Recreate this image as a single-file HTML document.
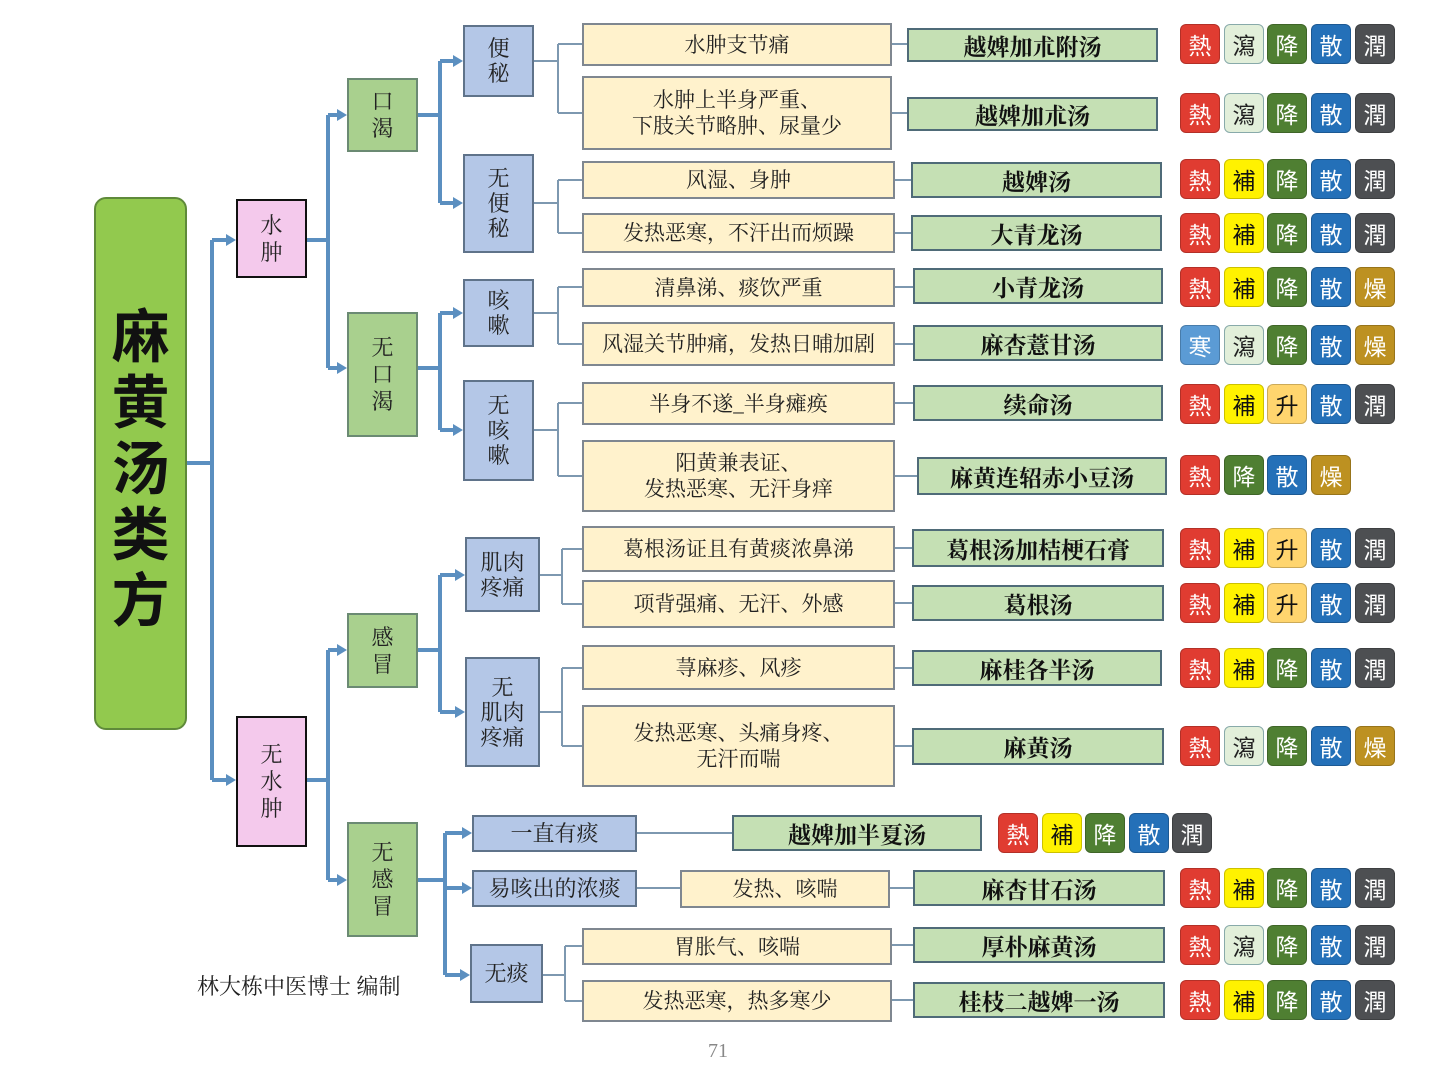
<!DOCTYPE html>
<html><head><meta charset="utf-8">
<style>
body{margin:0;width:1440px;height:1079px;background:#fff;position:relative;overflow:hidden;font-family:"Liberation Serif","Noto Serif CJK SC",serif;}
.b{position:absolute;box-sizing:border-box;display:flex;align-items:center;justify-content:center;text-align:center;color:#222;}
.l1{background:#f4c9ec;border:2px solid #111;font-size:22px;line-height:27px;}
.l2{background:#a9d08e;border:2px solid #6b8a73;font-size:22px;line-height:27px;}
.l3{background:#b4c7e7;border:2px solid #5f738a;font-size:22px;line-height:25px;}
.s{background:#fff2cc;border:2px solid #7f8790;font-size:21px;line-height:26px;}
.f{background:#c5e0b4;border:2px solid #4f6b78;font-size:23px;font-weight:bold;color:#111;}
.k{position:absolute;width:40px;height:40px;border-radius:6px;box-sizing:border-box;display:flex;align-items:center;justify-content:center;font-size:23px;color:#fff;font-family:"Noto Sans CJK SC",sans-serif;border:1px solid rgba(0,0,0,.2);}
.r{background:#e03c31}.y{background:#fff200;color:#111}.g{background:#4f7f32}.bl{background:#2470b8}.d{background:#4d4f52}.x{background:#e2efda;color:#222;border-color:#8aa}.o{background:#ffd56e;color:#111}.z{background:#bd9121}.c{background:#5b9bd5}
</style></head><body>
<svg width="1440" height="1079" style="position:absolute;left:0;top:0">
<g stroke="#5b8fc0" stroke-width="4" fill="none">
<path d="M187 463H212M212 240V780M212 240H228M212 780H228"/>
<path d="M307 240H328M328 115V368M328 115H339M328 368H339"/>
<path d="M307 780H328M328 650V880M328 650H339M328 880H339"/>
<path d="M418 115H440M440 61V203M440 61H455M440 203H455"/>
<path d="M418 368H440M440 313V430M440 313H455M440 430H455"/>
<path d="M418 650H440M440 575V712M440 575H457M440 712H457"/>
<path d="M418 880H445M445 833V975M445 833H464M445 888H464M445 975H462"/>
</g>
<g fill="#5b8fc0">
<polygon points="226,234 236,240 226,246"/><polygon points="226,774 236,780 226,786"/>
<polygon points="337,109 347,115 337,121"/><polygon points="337,362 347,368 337,374"/>
<polygon points="337,644 347,650 337,656"/><polygon points="337,874 347,880 337,886"/>
<polygon points="453,55 463,61 453,67"/><polygon points="453,197 463,203 453,209"/>
<polygon points="453,307 463,313 453,319"/><polygon points="453,424 463,430 453,436"/>
<polygon points="455,569 465,575 455,581"/><polygon points="455,706 465,712 455,718"/>
<polygon points="462,827 472,833 462,839"/><polygon points="462,882 472,888 462,894"/><polygon points="460,969 470,975 460,981"/>
</g>
<g stroke="#7d98b0" stroke-width="2" fill="none">
<path d="M534 61H558M558 44V113M558 44H582M558 113H582"/>
<path d="M534 203H558M558 180V233M558 180H582M558 233H582"/>
<path d="M534 313H558M558 287V344M558 287H582M558 344H582"/>
<path d="M534 430H558M558 403V476M558 403H582M558 476H582"/>
<path d="M540 575H562M562 549V604M562 549H582M562 604H582"/>
<path d="M540 712H562M562 668V746M562 668H582M562 746H582"/>
<path d="M543 975H565M565 946V1001M565 946H582M565 1001H582"/>
<path d="M637 833H732M637 888H680"/>
<path d="M892 44H907M892 113H907M895 180H911M895 233H911M895 287H913M895 344H913M895 403H913M895 476H917M895 548H912M895 603H912M895 668H912M895 746H912M890 888H913M892 945H913M892 1000H913"/>
</g>
</svg>

<div class="b" style="left:94px;top:197px;width:93px;height:533px;background:#92c94e;border:2px solid #5f8a3a;border-radius:12px;font-size:58px;line-height:66px;font-weight:bold;color:#111;font-family:'Noto Sans CJK SC',sans-serif;">麻<br>黄<br>汤<br>类<br>方</div>

<div class="b l1" style="left:236px;top:199px;width:71px;height:79px">水<br>肿</div>
<div class="b l1" style="left:236px;top:716px;width:71px;height:131px">无<br>水<br>肿</div>

<div class="b l2" style="left:347px;top:78px;width:71px;height:74px">口<br>渴</div>
<div class="b l2" style="left:347px;top:312px;width:71px;height:125px">无<br>口<br>渴</div>
<div class="b l2" style="left:347px;top:613px;width:71px;height:75px">感<br>冒</div>
<div class="b l2" style="left:347px;top:822px;width:71px;height:115px">无<br>感<br>冒</div>

<div class="b l3" style="left:463px;top:25px;width:71px;height:72px">便<br>秘</div>
<div class="b l3" style="left:463px;top:154px;width:71px;height:99px">无<br>便<br>秘</div>
<div class="b l3" style="left:463px;top:279px;width:71px;height:68px">咳<br>嗽</div>
<div class="b l3" style="left:463px;top:380px;width:71px;height:101px">无<br>咳<br>嗽</div>
<div class="b l3" style="left:465px;top:537px;width:75px;height:75px">肌肉<br>疼痛</div>
<div class="b l3" style="left:465px;top:657px;width:75px;height:110px">无<br>肌肉<br>疼痛</div>
<div class="b l3" style="left:472px;top:815px;width:165px;height:37px">一直有痰</div>
<div class="b l3" style="left:472px;top:870px;width:165px;height:37px">易咳出的浓痰</div>
<div class="b l3" style="left:470px;top:944px;width:73px;height:59px">无痰</div>

<div class="b s" style="left:582px;top:23px;width:310px;height:43px">水肿支节痛</div>
<div class="b s" style="left:582px;top:76px;width:310px;height:74px">水肿上半身严重、<br>下肢关节略肿、尿量少</div>
<div class="b s" style="left:582px;top:161px;width:313px;height:38px">风湿、身肿</div>
<div class="b s" style="left:582px;top:213px;width:313px;height:40px">发热恶寒，不汗出而烦躁</div>
<div class="b s" style="left:582px;top:268px;width:313px;height:39px">清鼻涕、痰饮严重</div>
<div class="b s" style="left:582px;top:322px;width:313px;height:44px">风湿关节肿痛，发热日晡加剧</div>
<div class="b s" style="left:582px;top:382px;width:313px;height:43px">半身不遂_半身瘫痪</div>
<div class="b s" style="left:582px;top:440px;width:313px;height:72px">阳黄兼表证、<br>发热恶寒、无汗身痒</div>
<div class="b s" style="left:582px;top:526px;width:313px;height:46px">葛根汤证且有黄痰浓鼻涕</div>
<div class="b s" style="left:582px;top:580px;width:313px;height:48px">项背强痛、无汗、外感</div>
<div class="b s" style="left:582px;top:645px;width:313px;height:45px">荨麻疹、风疹</div>
<div class="b s" style="left:582px;top:705px;width:313px;height:82px">发热恶寒、头痛身疼、<br>无汗而喘</div>
<div class="b s" style="left:680px;top:870px;width:210px;height:38px">发热、咳喘</div>
<div class="b s" style="left:582px;top:928px;width:310px;height:37px">胃胀气、咳喘</div>
<div class="b s" style="left:582px;top:980px;width:310px;height:42px">发热恶寒，热多寒少</div>

<div class="b f" style="left:907px;top:28px;width:251px;height:34px">越婢加朮附汤</div>
<div class="b f" style="left:907px;top:97px;width:251px;height:34px">越婢加朮汤</div>
<div class="b f" style="left:911px;top:162px;width:251px;height:36px">越婢汤</div>
<div class="b f" style="left:911px;top:215px;width:251px;height:36px">大青龙汤</div>
<div class="b f" style="left:913px;top:268px;width:250px;height:36px">小青龙汤</div>
<div class="b f" style="left:913px;top:325px;width:250px;height:36px">麻杏薏甘汤</div>
<div class="b f" style="left:913px;top:385px;width:250px;height:36px">续命汤</div>
<div class="b f" style="left:917px;top:457px;width:250px;height:38px">麻黄连轺赤小豆汤</div>
<div class="b f" style="left:912px;top:529px;width:252px;height:38px">葛根汤加桔梗石膏</div>
<div class="b f" style="left:912px;top:585px;width:252px;height:36px">葛根汤</div>
<div class="b f" style="left:912px;top:650px;width:250px;height:36px">麻桂各半汤</div>
<div class="b f" style="left:912px;top:728px;width:252px;height:37px">麻黄汤</div>
<div class="b f" style="left:732px;top:815px;width:250px;height:36px">越婢加半夏汤</div>
<div class="b f" style="left:913px;top:870px;width:252px;height:36px">麻杏甘石汤</div>
<div class="b f" style="left:913px;top:927px;width:252px;height:36px">厚朴麻黄汤</div>
<div class="b f" style="left:913px;top:982px;width:252px;height:36px">桂枝二越婢一汤</div>

<div class="k r" style="left:1180px;top:24px">熱</div><div class="k x" style="left:1224px;top:24px">瀉</div><div class="k g" style="left:1267px;top:24px">降</div><div class="k bl" style="left:1311px;top:24px">散</div><div class="k d" style="left:1355px;top:24px">潤</div>
<div class="k r" style="left:1180px;top:93px">熱</div><div class="k x" style="left:1224px;top:93px">瀉</div><div class="k g" style="left:1267px;top:93px">降</div><div class="k bl" style="left:1311px;top:93px">散</div><div class="k d" style="left:1355px;top:93px">潤</div>
<div class="k r" style="left:1180px;top:159px">熱</div><div class="k y" style="left:1224px;top:159px">補</div><div class="k g" style="left:1267px;top:159px">降</div><div class="k bl" style="left:1311px;top:159px">散</div><div class="k d" style="left:1355px;top:159px">潤</div>
<div class="k r" style="left:1180px;top:213px">熱</div><div class="k y" style="left:1224px;top:213px">補</div><div class="k g" style="left:1267px;top:213px">降</div><div class="k bl" style="left:1311px;top:213px">散</div><div class="k d" style="left:1355px;top:213px">潤</div>
<div class="k r" style="left:1180px;top:267px">熱</div><div class="k y" style="left:1224px;top:267px">補</div><div class="k g" style="left:1267px;top:267px">降</div><div class="k bl" style="left:1311px;top:267px">散</div><div class="k z" style="left:1355px;top:267px">燥</div>
<div class="k c" style="left:1180px;top:325px">寒</div><div class="k x" style="left:1224px;top:325px">瀉</div><div class="k g" style="left:1267px;top:325px">降</div><div class="k bl" style="left:1311px;top:325px">散</div><div class="k z" style="left:1355px;top:325px">燥</div>
<div class="k r" style="left:1180px;top:384px">熱</div><div class="k y" style="left:1224px;top:384px">補</div><div class="k o" style="left:1267px;top:384px">升</div><div class="k bl" style="left:1311px;top:384px">散</div><div class="k d" style="left:1355px;top:384px">潤</div>
<div class="k r" style="left:1180px;top:455px">熱</div><div class="k g" style="left:1224px;top:455px">降</div><div class="k bl" style="left:1267px;top:455px">散</div><div class="k z" style="left:1311px;top:455px">燥</div>
<div class="k r" style="left:1180px;top:528px">熱</div><div class="k y" style="left:1224px;top:528px">補</div><div class="k o" style="left:1267px;top:528px">升</div><div class="k bl" style="left:1311px;top:528px">散</div><div class="k d" style="left:1355px;top:528px">潤</div>
<div class="k r" style="left:1180px;top:583px">熱</div><div class="k y" style="left:1224px;top:583px">補</div><div class="k o" style="left:1267px;top:583px">升</div><div class="k bl" style="left:1311px;top:583px">散</div><div class="k d" style="left:1355px;top:583px">潤</div>
<div class="k r" style="left:1180px;top:648px">熱</div><div class="k y" style="left:1224px;top:648px">補</div><div class="k g" style="left:1267px;top:648px">降</div><div class="k bl" style="left:1311px;top:648px">散</div><div class="k d" style="left:1355px;top:648px">潤</div>
<div class="k r" style="left:1180px;top:726px">熱</div><div class="k x" style="left:1224px;top:726px">瀉</div><div class="k g" style="left:1267px;top:726px">降</div><div class="k bl" style="left:1311px;top:726px">散</div><div class="k z" style="left:1355px;top:726px">燥</div>
<div class="k r" style="left:998px;top:813px">熱</div><div class="k y" style="left:1042px;top:813px">補</div><div class="k g" style="left:1085px;top:813px">降</div><div class="k bl" style="left:1129px;top:813px">散</div><div class="k d" style="left:1172px;top:813px">潤</div>
<div class="k r" style="left:1180px;top:868px">熱</div><div class="k y" style="left:1224px;top:868px">補</div><div class="k g" style="left:1267px;top:868px">降</div><div class="k bl" style="left:1311px;top:868px">散</div><div class="k d" style="left:1355px;top:868px">潤</div>
<div class="k r" style="left:1180px;top:925px">熱</div><div class="k x" style="left:1224px;top:925px">瀉</div><div class="k g" style="left:1267px;top:925px">降</div><div class="k bl" style="left:1311px;top:925px">散</div><div class="k d" style="left:1355px;top:925px">潤</div>
<div class="k r" style="left:1180px;top:980px">熱</div><div class="k y" style="left:1224px;top:980px">補</div><div class="k g" style="left:1267px;top:980px">降</div><div class="k bl" style="left:1311px;top:980px">散</div><div class="k d" style="left:1355px;top:980px">潤</div>

<div style="position:absolute;left:197px;top:970px;font-size:22px;color:#222;white-space:nowrap">林大栋中医博士 编制</div>
<div style="position:absolute;left:708px;top:1040px;font-size:20px;color:#888">71</div>
</body></html>
